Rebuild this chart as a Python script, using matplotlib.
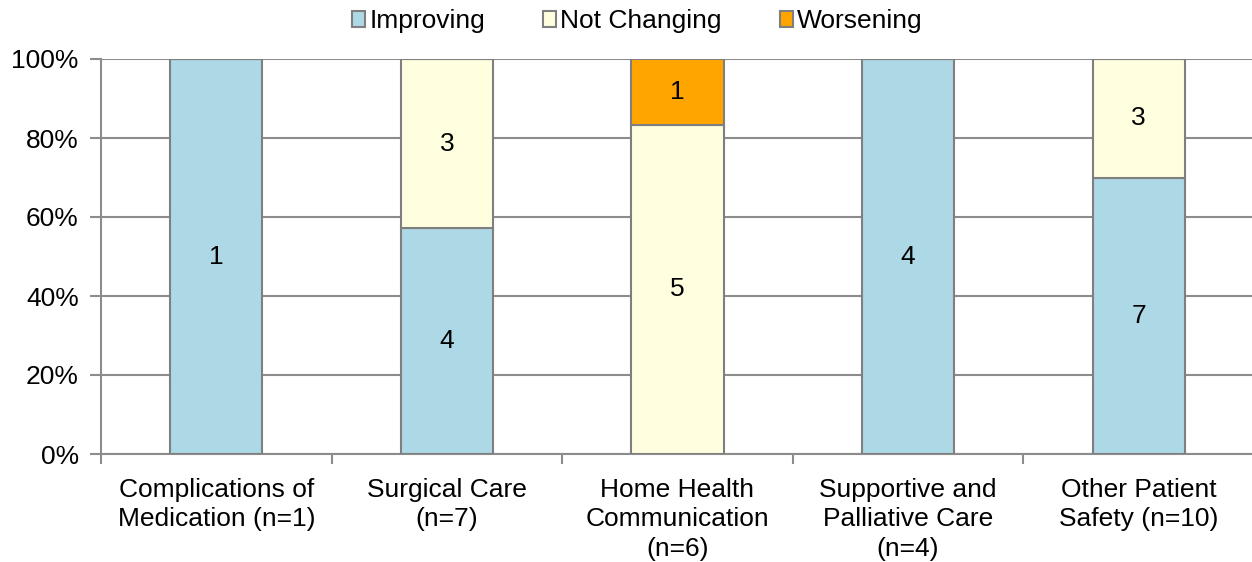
import numpy as np
import matplotlib.pyplot as plt
from matplotlib.ticker import FixedLocator, PercentFormatter

plt.rcParams['font.family'] = ['Liberation Sans', 'DejaVu Sans']

# ========== data ==========
categories = ['Complications of\nMedication (n=1)', 'Surgical Care\n(n=7)',
              'Home Health\nCommunication\n(n=6)', 'Supportive and\nPalliative Care\n(n=4)',
              'Other Patient\nSafety (n=10)']
improving = [1, 4, 0, 4, 7]
not_changing = [0, 3, 5, 0, 3]
worsening = [0, 0, 1, 0, 0]
series_names = ['Improving', 'Not Changing', 'Worsening']
colors = ['#ADD8E6', '#FFFFE0', '#FFA500']

counts = np.array([improving, not_changing, worsening], dtype=float)
totals = counts.sum(axis=0)
pct = counts / totals * 100

fs = 19

fig = plt.figure(figsize=(12.52, 5.62), dpi=100)
ax = fig.add_axes([101 / 1252, 108 / 562, 1153 / 1252, 395 / 562])

x = np.arange(len(categories))
bottom = np.zeros(len(categories))
for i in range(3):
    ax.bar(x, pct[i], 0.4, bottom=bottom, color=colors[i], edgecolor='#7f7f7f',
           linewidth=1.5, label=series_names[i], zorder=3)
    for j in range(len(categories)):
        if counts[i, j] > 0:
            ax.text(x[j], bottom[j] + pct[i, j] / 2, '%d' % counts[i, j],
                    ha='center', va='center', fontsize=fs, zorder=4)
    bottom += pct[i]

ax.set_xlim(-0.5, len(categories) - 0.5)
ax.set_ylim(0, 100)
ax.yaxis.set_major_locator(FixedLocator([0, 20, 40, 60, 80, 100]))
ax.yaxis.set_major_formatter(PercentFormatter(decimals=0))
ax.grid(axis='y', color='#8c8c8c', linewidth=1.5, zorder=0)

# ticks at category boundaries, labels at centres
ax.set_xticks(np.arange(-0.5, len(categories), 1.0))
ax.set_xticklabels([])
ax.set_xticks(x, minor=True)
ax.set_xticklabels(categories, minor=True, fontsize=fs, linespacing=1.3)
ax.tick_params(axis='x', which='minor', length=0, pad=17)
ax.tick_params(axis='x', which='major', length=7, width=1.5, color='#8c8c8c')
ax.tick_params(axis='y', length=8, width=1.5, color='#8c8c8c', labelsize=fs, pad=8)

for s in ['top', 'right']:
    ax.spines[s].set_visible(False)
for s in ['left', 'bottom']:
    ax.spines[s].set_color('#8c8c8c')
    ax.spines[s].set_linewidth(1.5)

leg = fig.legend(loc='center', bbox_to_anchor=(0.509, 0.962), ncol=3, frameon=False,
                 fontsize=fs, handlelength=0.5, handleheight=0.5, handletextpad=0.15,
                 columnspacing=2.2)

plt.savefig('out.png', dpi=100)
